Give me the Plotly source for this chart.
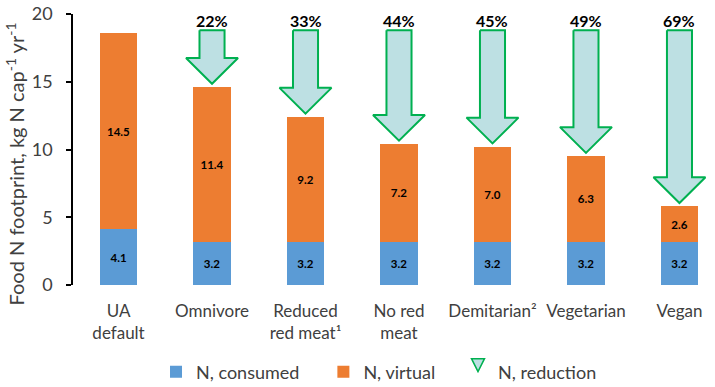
import plotly.graph_objects as go

categories = ["UA<br>default", "Omnivore", "Reduced<br>red meat¹", "No red<br>meat",
              "Demitarian²", "Vegetarian", "Vegan"]
consumed = [4.1, 3.2, 3.2, 3.2, 3.2, 3.2, 3.2]
virtual = [14.5, 11.4, 9.2, 7.2, 7.0, 6.3, 2.6]
reduction_pct = [None, 22, 33, 44, 45, 49, 69]
y_ticks = [0, 5, 10, 15, 20]

FONT = "Lato, Open Sans, sans-serif"
BLUE = "#5B9BD5"
ORANGE = "#ED7D31"
ARROW_FILL = "#BDE0E3"
ARROW_LINE = "#00B050"
GREY = "#404040"

x = list(range(len(categories)))
totals = [c + v for c, v in zip(consumed, virtual)]

fig = go.Figure()
fig.add_trace(go.Bar(
    x=x, y=consumed, name="N, consumed", marker=dict(color=BLUE, line=dict(width=0)),
    width=0.4, text=[f"{v:.1f}" for v in consumed], textposition="inside",
    insidetextanchor="middle", textfont=dict(family=FONT, size=11.5, color="black", weight="bold"),
    hoverinfo="skip", legend="legend"))
fig.add_trace(go.Bar(
    x=x, y=virtual, name="N, virtual", marker=dict(color=ORANGE, line=dict(width=0)),
    width=0.4, text=[f"{v:.1f}" for v in virtual], textposition="inside",
    insidetextanchor="middle", textfont=dict(family=FONT, size=11.5, color="black", weight="bold"),
    hoverinfo="skip", legend="legend2"))

# reduction arrows, from reference total down to each scenario total
ref_top = totals[0] + 0.2
shaft_hw = 0.134
head_hw = 0.278
head_len = 1.9
gap = 0.25
for i, pct in enumerate(reduction_pct):
    if pct is None:
        continue
    tip = totals[i] + gap
    hb = tip + head_len
    xs = [i - shaft_hw, i + shaft_hw, i + shaft_hw, i + head_hw, i, i - head_hw, i - shaft_hw, i - shaft_hw]
    ys = [ref_top, ref_top, hb, hb, tip, hb, hb, ref_top]
    fig.add_trace(go.Scatter(
        x=xs, y=ys, mode="lines", fill="toself", fillcolor=ARROW_FILL,
        line=dict(color=ARROW_LINE, width=2), showlegend=False, hoverinfo="skip"))
    fig.add_annotation(x=i, y=19.5, text=f"<b>{pct}%</b>", showarrow=False,
                       font=dict(family=FONT, size=16, color="black"), yanchor="middle")

# legend entry for arrows
fig.add_trace(go.Scatter(
    x=[None], y=[None], mode="markers", name="N, reduction", legend="legend3",
    marker=dict(symbol="arrow-down", size=13, color=ARROW_FILL, line=dict(color=ARROW_LINE, width=1.5))))

# y-axis title as rotated annotation
fig.add_annotation(xref="paper", yref="paper", x=-0.0904, y=0.4485, textangle=-90,
                   text="Food N footprint, kg N cap<sup>-1</sup> yr<sup>-1</sup>", showarrow=False,
                   font=dict(family=FONT, size=20, color=GREY), xanchor="center", yanchor="middle")

leg = dict(orientation="h", xanchor="left", y=-0.321, yanchor="middle",
           font=dict(size=18, color=GREY), itemwidth=30, bgcolor="rgba(0,0,0,0)")

fig.update_layout(
    width=715, height=387, barmode="stack",
    margin=dict(l=73, r=0, t=14, b=102, autoexpand=False),
    plot_bgcolor="white", paper_bgcolor="white",
    font=dict(family=FONT, color=GREY, size=17),
    showlegend=True,
    legend=dict(leg, x=0.1293),
    legend2=dict(leg, x=0.390),
    legend3=dict(leg, x=0.5997),
    xaxis=dict(tickmode="array", tickvals=x, ticktext=categories, range=[-0.487, 6.38],
               showline=False, showgrid=False, zeroline=False, ticks="", automargin=False,
               ticklabelstandoff=14, tickfont=dict(size=17, color=GREY)),
    yaxis=dict(range=[0, 20], tickvals=y_ticks, showgrid=False, zeroline=False, automargin=False,
               showline=True, linecolor="black", linewidth=1.5, ticks="outside", ticklen=5,
               tickcolor="black", tickwidth=1.5, ticklabelstandoff=10,
               tickfont=dict(size=18, color=GREY)),
)

fig.write_html("out.html", config={"displayModeBar": False},
               post_script="document.body.style.margin='0px';")
